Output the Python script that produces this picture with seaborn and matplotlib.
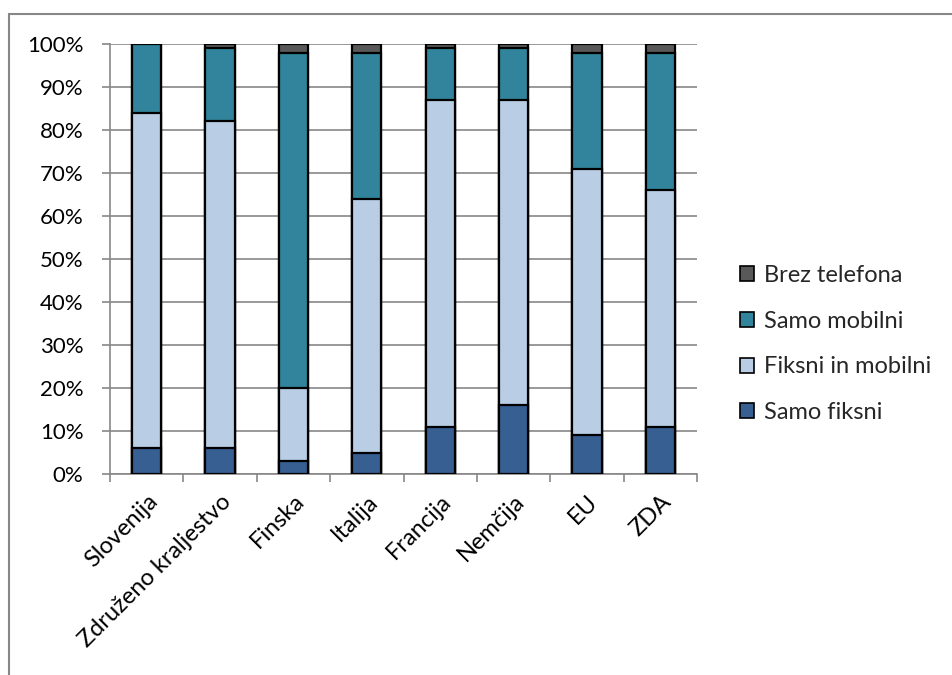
import matplotlib
matplotlib.use("Agg")
import matplotlib.pyplot as plt
import seaborn as sns
import numpy as np
import pandas as pd
from matplotlib.patches import Rectangle, Patch
from matplotlib.ticker import PercentFormatter, FixedLocator

categories = ["Slovenija", "Združeno kraljestvo", "Finska", "Italija",
              "Francija", "Nemčija", "EU", "ZDA"]
samo_fiksni = [6, 6, 3, 5, 11, 16, 9, 11]
fiksni_in_mobilni = [78, 76, 17, 59, 76, 71, 62, 55]
samo_mobilni = [16, 17, 78, 34, 12, 12, 27, 32]
brez_telefona = [0, 1, 2, 2, 1, 1, 2, 2]

series_names = ["Samo fiksni", "Fiksni in mobilni", "Samo mobilni", "Brez telefona"]
series_values = [samo_fiksni, fiksni_in_mobilni, samo_mobilni, brez_telefona]
colors = ["#375F92", "#B9CDE5", "#31849B", "#595959"]

sns.set_theme(style="white")
plt.rcParams['font.family'] = ['Lato', 'DejaVu Sans']

fig = plt.figure(figsize=(9.52, 6.75), dpi=100)
ax = fig.add_axes([110/952, 1-474/675, (697-110)/952, (474-44)/675])

cum = np.cumsum(np.array(series_values, dtype=float), axis=0)
for i in range(len(series_names) - 1, -1, -1):
    df = pd.DataFrame({"kat": categories, "val": cum[i]})
    sns.barplot(data=df, x="kat", y="val", color=colors[i], ax=ax,
                width=0.4, edgecolor="black", linewidth=1.6, saturation=1,
                zorder=3)

ax.set_ylim(0, 100)
ax.set_xlim(-0.5, len(categories) - 0.5)
ax.set_yticks(np.arange(0, 101, 10))
ax.yaxis.set_major_formatter(PercentFormatter(decimals=0))
ax.set_xlabel("")
ax.set_ylabel("")
ax.grid(axis="y", color="#878787", linewidth=1.2, zorder=0)
ax.set_axisbelow(True)
for s in ["top", "right"]:
    ax.spines[s].set_visible(False)
for s in ["left", "bottom"]:
    ax.spines[s].set_color("#878787")
    ax.spines[s].set_linewidth(1.2)

ax.tick_params(axis="y", which="major", direction="out", length=6, width=1.2,
               color="#878787", labelsize=16, labelcolor="black", pad=13, left=True)
ax.set_xticks(range(len(categories)))
ax.set_xticklabels(categories, rotation=45, ha="right", rotation_mode="anchor",
                   fontsize=17, color="black")
ax.tick_params(axis="x", which="major", length=0, pad=12)
ax.xaxis.set_minor_locator(FixedLocator(np.arange(-0.5, len(categories), 1.0)))
ax.tick_params(axis="x", which="minor", direction="out", length=6, width=1.2,
               color="#878787", bottom=True)

handles = [Patch(facecolor=colors[i], edgecolor="black", linewidth=1.2,
                 label=series_names[i]) for i in range(len(series_names) - 1, -1, -1)]
fig.legend(handles=handles, loc="center left",
           bbox_to_anchor=(740/952, 1-344/675), frameon=False, fontsize=17,
           handlelength=0.6, handleheight=0.6, handletextpad=0.4,
           labelspacing=1.05, borderaxespad=0, borderpad=0)

fig.patches.append(Rectangle((9/952, -0.05), 1.2, 1.05 - 14/675,
                             transform=fig.transFigure, fill=False,
                             edgecolor="#878787", linewidth=1.5, zorder=10))

fig.savefig("out.png", dpi=100)
